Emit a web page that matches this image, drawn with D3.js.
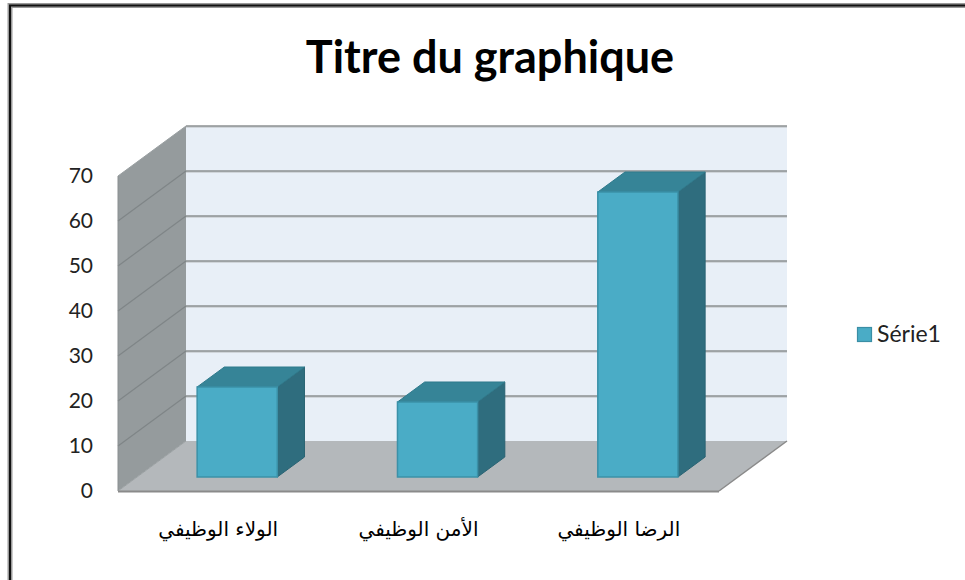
<!DOCTYPE html>
<html>
<head>
<meta charset="utf-8">
<script src="https://cdn.jsdelivr.net/npm/d3@7"></script>
<style>
  html, body { margin: 0; padding: 0; background: #fff; }
  svg { display: block; }
</style>
</head>
<body>
<svg id="chart" width="965" height="580"></svg>
<script>
const categories = ["الولاء الوظيفي", "الأمن الوظيفي", "الرضا الوظيفي"];
const values = [20, 16.67, 63.33];
const yTicks = [0, 10, 20, 30, 40, 50, 60, 70];
const seriesName = "Série1";
const titleText = "Titre du graphique";

const svg = d3.select("#chart");

// 3D geometry
const DX = 68, DY = 50;         // depth offset from front to back of plot
const T1 = 0.28, T2 = 0.68;     // bar depth range (fraction of depth)
const proj = (px, py, t) => [px + DX * t, py - DY * t];

const x = d3.scaleBand().domain(categories).range([118, 719]).paddingInner(0.6).paddingOuter(0.3);
const y = d3.scaleLinear().domain([0, 70]).range([491, 176]);

// frame
svg.append("rect").attr("x", 10).attr("y", 5.5).attr("width", 980).attr("height", 600)
  .attr("fill", "none").attr("stroke", "#9a9a9a").attr("stroke-width", 5);
svg.append("rect").attr("x", 10).attr("y", 5.5).attr("width", 980).attr("height", 600)
  .attr("fill", "none").attr("stroke", "#111").attr("stroke-width", 2);

const x0 = x.range()[0], x1 = x.range()[1];
const y0 = y(0), yTop = y(70);
const poly = pts => pts.map(p => p.join(",")).join(" ");

// back wall
svg.append("polygon")
  .attr("points", poly([proj(x0, yTop, 1), proj(x1, yTop, 1), proj(x1, y0, 1), proj(x0, y0, 1)]))
  .attr("fill", "#e8eff7");
// side wall
svg.append("polygon")
  .attr("points", poly([[x0, yTop], proj(x0, yTop, 1), proj(x0, y0, 1), [x0, y0]]))
  .attr("fill", "#959b9d");
// floor
svg.append("polygon")
  .attr("points", poly([[x0, y0], proj(x0, y0, 1), proj(x1, y0, 1), [x1, y0]]))
  .attr("fill", "#b4b8bb");

// gridlines on back wall and side wall
const grid = svg.append("g");
yTicks.filter(v => v > 0).forEach(v => {
  const a = proj(x0, y(v), 1), b = proj(x1, y(v), 1);
  grid.append("line").attr("x1", a[0]).attr("y1", a[1] + 1).attr("x2", b[0]).attr("y2", b[1] + 1)
    .attr("stroke", "#c9cdd0").attr("stroke-width", 1.5);
  grid.append("line").attr("x1", a[0]).attr("y1", a[1]).attr("x2", b[0]).attr("y2", b[1])
    .attr("stroke", "#8d9092").attr("stroke-width", 1.6);
});
yTicks.filter(v => v > 0 && v < 70).forEach(v => {
  const a = [x0, y(v)], b = proj(x0, y(v), 1);
  grid.append("line").attr("x1", a[0]).attr("y1", a[1]).attr("x2", b[0]).attr("y2", b[1])
    .attr("stroke", "#7f8587").attr("stroke-width", 1.2);
});
// side wall top edge + front edge
grid.append("line").attr("x1", x0).attr("y1", yTop).attr("x2", proj(x0, yTop, 1)[0]).attr("y2", proj(x0, yTop, 1)[1])
  .attr("stroke", "#9aa0a2").attr("stroke-width", 1);
grid.append("line").attr("x1", x0).attr("y1", yTop).attr("x2", x0).attr("y2", y0)
  .attr("stroke", "#8a8f91").attr("stroke-width", 1);
// floor edges
grid.append("line").attr("x1", x0).attr("y1", y0).attr("x2", proj(x0, y0, 1)[0]).attr("y2", proj(x0, y0, 1)[1])
  .attr("stroke", "#9aa0a2").attr("stroke-width", 1);
grid.append("line").attr("x1", x0).attr("y1", y0 + 0.5).attr("x2", x1).attr("y2", y0 + 0.5)
  .attr("stroke", "#8a8a8a").attr("stroke-width", 2);
grid.append("line").attr("x1", x1).attr("y1", y0).attr("x2", proj(x1, y0, 1)[0]).attr("y2", proj(x1, y0, 1)[1])
  .attr("stroke", "#8a8a8a").attr("stroke-width", 1.5);

// bars
const bars = svg.append("g");
categories.forEach((c, i) => {
  const v = values[i];
  const bx0 = x(c), bx1 = x(c) + x.bandwidth();
  const FTL = proj(bx0, y(v), T1), FTR = proj(bx1, y(v), T1);
  const FBL = proj(bx0, y(0), T1), FBR = proj(bx1, y(0), T1);
  const BTL = proj(bx0, y(v), T2), BTR = proj(bx1, y(v), T2);
  const BBR = proj(bx1, y(0), T2);
  bars.append("polygon").attr("points", poly([FTR, BTR, BBR, FBR]))
    .attr("fill", "#2f6d7e").attr("stroke", "#2a6373").attr("stroke-width", 1).attr("stroke-linejoin", "round");
  bars.append("polygon").attr("points", poly([FTL, BTL, BTR, FTR]))
    .attr("fill", "#368497").attr("stroke", "#2f7a8c").attr("stroke-width", 1).attr("stroke-linejoin", "round");
  bars.append("polygon").attr("points", poly([FTL, FTR, FBR, FBL]))
    .attr("fill", "#4aacc6").attr("stroke", "#3b91a8").attr("stroke-width", 1.5);
});

// y axis labels (front plane)
const yAxis = d3.axisLeft(y).tickValues(yTicks).tickSize(0).tickPadding(25).tickFormat(d3.format("d"));
const gy = svg.append("g").attr("transform", `translate(${x0},0)`).call(yAxis);
gy.select(".domain").remove();
gy.selectAll("text").attr("font-family", "Lato, 'Open Sans', sans-serif").attr("font-size", 21).attr("fill", "#222");

// category labels (front plane)
const xAxis = d3.axisBottom(x).tickSize(0).tickPadding(0);
const gx = svg.append("g").attr("transform", `translate(0,522)`).call(xAxis);
gx.select(".domain").remove();
gx.selectAll("text").attr("font-family", "'DejaVu Sans', sans-serif").attr("font-size", 20).attr("fill", "#000")
  .attr("direction", "rtl").attr("text-anchor", "middle");

// title
svg.append("text").attr("x", 490).attr("y", 73).attr("text-anchor", "middle")
  .attr("font-family", "Lato, 'Open Sans', sans-serif").attr("font-weight", "bold").attr("font-size", 45)
  .attr("fill", "#000").text(titleText);

// legend
const lg = svg.append("g").attr("transform", "translate(857,327)");
lg.append("rect").attr("x", 0.5).attr("y", 0.5).attr("width", 14).attr("height", 14)
  .attr("fill", "#4aacc6").attr("stroke", "#3a8ea5").attr("stroke-width", 1.2);
lg.append("text").attr("x", 20).attr("y", 15).attr("font-family", "Lato, 'Open Sans', sans-serif")
  .attr("font-size", 23).attr("fill", "#222").text(seriesName);
</script>
</body>
</html>
